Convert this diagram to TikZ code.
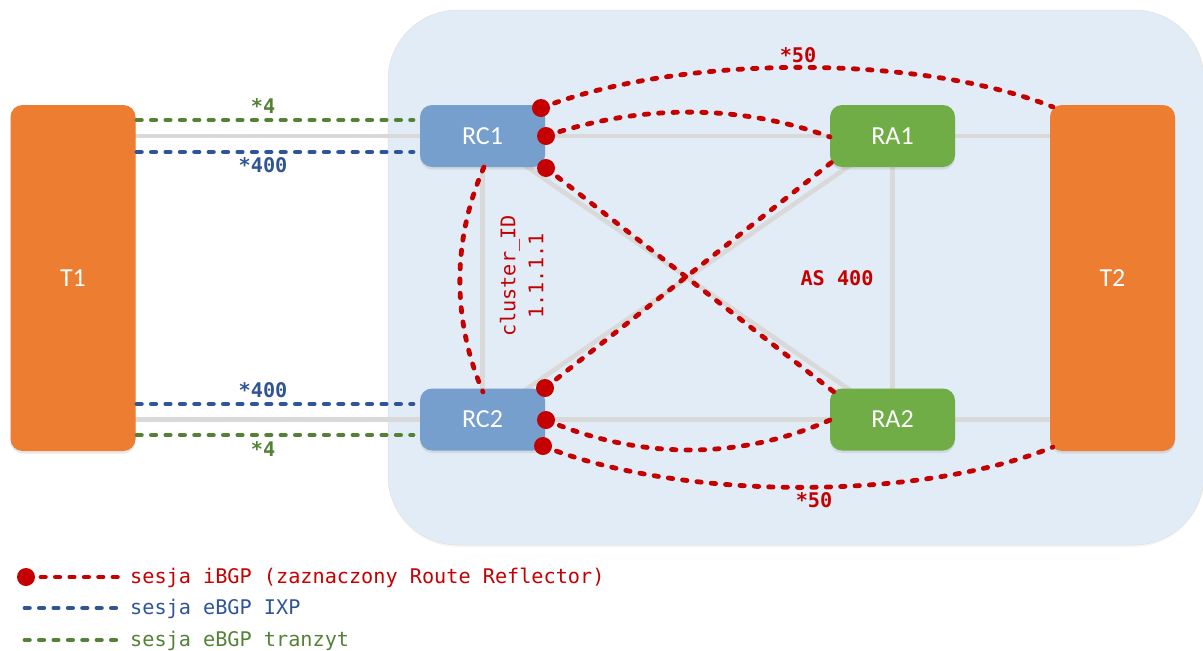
\documentclass[tikz,border=0pt]{standalone}
\usepackage{fontspec}
\setmainfont{Carlito}
\newfontfamily\monofam{DejaVu Sans Mono}
\usetikzlibrary{shadows}
\definecolor{bgblue}{HTML}{E2ECF6}
\definecolor{orangebox}{HTML}{ED7D31}
\definecolor{bluebox}{HTML}{769FCD}
\definecolor{greenbox}{HTML}{70AD47}
\definecolor{linkgray}{HTML}{D9D9D9}
\definecolor{redline}{HTML}{C40000}
\definecolor{blueline}{HTML}{2F5597}
\definecolor{greenline}{HTML}{548235}
\tikzset{
  softshadow/.style={drop shadow={opacity=.18,shadow xshift=0pt,shadow yshift=-2.5pt}},
  devbox/.style={rectangle,rounded corners=12pt,minimum width=125pt,minimum height=62pt,inner sep=0pt,
    text=white,font=\fontsize{26}{30}\selectfont,softshadow},
  provider/.style={devbox,fill=orangebox,minimum height=346pt},
  rcbox/.style={devbox,fill=bluebox},
  rabox/.style={devbox,fill=greenbox},
  link/.style={draw=linkgray,line width=4.6pt},
  sess/.style={line width=4.8pt,line cap=round,dash pattern=on 4.4pt off 10pt},
  ibgp/.style={sess,draw=redline},
  ixp/.style={sess,draw=blueline},
  transit/.style={sess,draw=greenline},
  rrdot/.style={circle,fill=redline,minimum size=18pt,inner sep=0pt},
  mono/.style={inner sep=0pt,font=\monofam\fontsize{20.2}{24}\selectfont},
  monob/.style={inner sep=0pt,font=\monofam\bfseries\fontsize{20.2}{24}\selectfont}
}
\begin{document}
\begin{tikzpicture}[x=1pt,y=-1pt]
\useasboundingbox (0,0) rectangle (1203,651);
% AS area
\node[rectangle,rounded corners=70pt,fill=bgblue,draw=black!12,line width=.5pt,minimum width=816pt,minimum height=535pt,inner sep=0pt,
  drop shadow={opacity=.08,shadow xshift=0pt,shadow yshift=-2pt}] (as) at (796,277.5) {};
% coordinates of the devices
\coordinate (pt1) at (73,278);
\coordinate (pt2) at (1112.5,278);
\coordinate (c1) at (482.5,136);
\coordinate (c2) at (482.5,419.5);
\coordinate (a1) at (892.5,136);
\coordinate (a2) at (892.5,419.5);
\coordinate (t1u) at (73,136);
\coordinate (t1d) at (73,419.5);
\coordinate (t2u) at (1112,136);
\coordinate (t2d) at (1112,419.5);
\draw[link] (t1u) -- (c1);
\draw[link] (t1d) -- (c2);
\draw[link] (c1) -- (a1);
\draw[link] (c2) -- (a2);
\draw[link] (a1) -- (t2u);
\draw[link] (a2) -- (t2d);
\draw[link] (c1) -- (c2);
\draw[link] (a1) -- (a2);
\draw[link] (c1) -- (a2);
\draw[link] (c2) -- (a1);
% devices
\node[provider] (t1) at (pt1) {T1};
\node[provider] (t2) at (pt2) {T2};
\node[rcbox] (rc1) at (c1) {RC1};
\node[rcbox] (rc2) at (c2) {RC2};
\node[rabox] (ra1) at (a1) {RA1};
\node[rabox] (ra2) at (a2) {RA2};
% free ends
\coordinate (gu1) at (137,120);
\coordinate (gu2) at (413,120);
\coordinate (bu1) at (137,152);
\coordinate (bu2) at (413,152);
\coordinate (bd1) at (137,404);
\coordinate (bd2) at (413,404);
\coordinate (gd1) at (137,435);
\coordinate (gd2) at (413,435);
\coordinate (t2top) at (1053,107);
\coordinate (t2bot) at (1053,447);
\coordinate (ra1l) at (830,137);
\coordinate (ra1d) at (832,162);
\coordinate (ra2u) at (834,392);
\coordinate (ra2l) at (830,420);
\coordinate (rc1b) at (484,167);
\coordinate (rc2t) at (483,392);
% eBGP
\draw[transit] (gu1) -- (gu2);
\draw[ixp] (bu1) -- (bu2);
\draw[ixp] (bd1) -- (bd2);
\draw[transit] (gd1) -- (gd2);
% route reflector dots
\node[rrdot] (d1) at (541,108) {};
\node[rrdot] (d2) at (546,136) {};
\node[rrdot] (d3) at (546,168) {};
\node[rrdot] (d4) at (545,388) {};
\node[rrdot] (d5) at (546,420) {};
\node[rrdot] (d6) at (543,446) {};
% iBGP
\draw[ibgp] (d1.center) .. controls (680,54) and (920,54) .. (t2top);
\draw[ibgp] (d2.center) .. controls (640,104) and (740,104) .. (ra1l);
\draw[ibgp] (d3.center) -- (ra2u);
\draw[ibgp] (d4.center) -- (ra1d);
\draw[ibgp] (d5.center) .. controls (640,460) and (740,460) .. (ra2l);
\draw[ibgp] (d6.center) .. controls (680,501) and (920,501) .. (t2bot);
\draw[ibgp] (rc1b) .. controls (452,240) and (452,320) .. (rc2t);
% labels
\node[monob,text=greenline] (l1) at (263,106) {*4};
\node[monob,text=blueline] (l2) at (263,165) {*400};
\node[monob,text=blueline] (l3) at (263,390) {*400};
\node[monob,text=greenline] (l4) at (263,449) {*4};
\node[monob,text=redline] (l5) at (798,55) {*50};
\node[monob,text=redline] (l6) at (814,500) {*50};
\node[monob,text=redline] (l7) at (837,278) {AS 400};
\node[mono,text=redline,rotate=90] (l8) at (510,276) {cluster\_ID};
\node[mono,text=redline,rotate=90] (l9) at (536,276) {1.1.1.1};
% legend
\node[rrdot] (k0) at (26,577) {};
\coordinate (k1a) at (41,577);
\coordinate (k1b) at (120,577);
\coordinate (k2a) at (25,608);
\coordinate (k2b) at (120,608);
\coordinate (k3a) at (25,640);
\coordinate (k3b) at (120,640);
\draw[ibgp] (k1a) -- (k1b);
\draw[ixp] (k2a) -- (k2b);
\draw[transit] (k3a) -- (k3b);
\node[mono,text=redline,anchor=west] (k1) at (130,578) {sesja iBGP (zaznaczony Route Reflector)};
\node[mono,text=blueline,anchor=west] (k2) at (130,609) {sesja eBGP IXP};
\node[mono,text=greenline,anchor=west] (k3) at (130,640.5) {sesja eBGP tranzyt};
\end{tikzpicture}
\end{document}
